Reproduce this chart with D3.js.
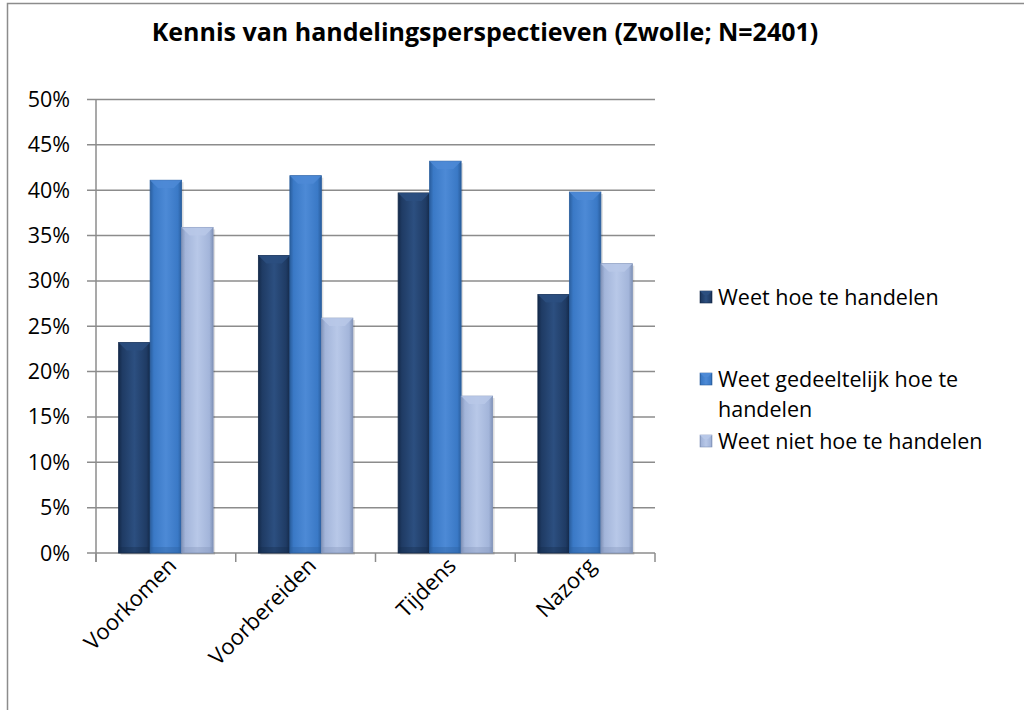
<!DOCTYPE html>
<html>
<head>
<meta charset="utf-8">
<script src="https://cdn.jsdelivr.net/npm/d3@7"></script>
<style>
  body { margin: 0; background: #fff; }
  text { font-family: "Open Sans", Lato, sans-serif; fill: #000; }
</style>
</head>
<body>
<script>
// chart data
var categories = ["Voorkomen", "Voorbereiden", "Tijdens", "Nazorg"];
var seriesNames = ["Weet hoe te handelen", "Weet gedeeltelijk hoe te handelen", "Weet niet hoe te handelen"];
var weetHoe = [23.2, 32.8, 39.7, 28.5];
var weetGedeeltelijk = [41.1, 41.6, 43.2, 39.8];
var weetNiet = [35.9, 25.9, 17.3, 31.9];
var yTicks = [0, 5, 10, 15, 20, 25, 30, 35, 40, 45, 50];

var series = [weetHoe, weetGedeeltelijk, weetNiet];
var colors = [
  {base: "#1f3b64", light: "#2c4f80", dark: "#142a4a"},
  {base: "#3a79c6", light: "#4d8ad6", dark: "#2a5e9e"},
  {base: "#a3b5da", light: "#b8c8e8", dark: "#8193b8"}
];

var W = 1024, H = 710;
var margin = {top: 99.5, left: 96, right: 1024 - 655, bottom: 710 - 553};
var width = W - margin.left - margin.right,
    height = H - margin.top - margin.bottom;

var svg = d3.select("body").append("svg")
    .attr("width", W)
    .attr("height", H);

// gradients for the bevelled bars
var defs = svg.append("defs");
colors.forEach(function(c, i) {
  var g = defs.append("linearGradient").attr("id", "grad" + i)
      .attr("x1", 0).attr("x2", 1).attr("y1", 0).attr("y2", 0);
  g.append("stop").attr("offset", "0%").attr("stop-color", c.dark);
  g.append("stop").attr("offset", "12%").attr("stop-color", c.base);
  g.append("stop").attr("offset", "50%").attr("stop-color", c.light);
  g.append("stop").attr("offset", "88%").attr("stop-color", c.base);
  g.append("stop").attr("offset", "100%").attr("stop-color", c.dark);
});

// outer frame
svg.append("rect")
    .attr("x", 7.5).attr("y", 3.5)
    .attr("width", W + 10).attr("height", H + 10)
    .attr("fill", "none")
    .attr("stroke", "#8c8c8c")
    .attr("stroke-width", 1.5);

// title
svg.append("text")
    .attr("x", 485).attr("y", 41)
    .attr("text-anchor", "middle")
    .style("font-size", "25px")
    .style("font-weight", "bold")
    .text("Kennis van handelingsperspectieven (Zwolle; N=2401)");

var g = svg.append("g")
    .attr("transform", "translate(" + margin.left + "," + margin.top + ")");

var x = d3.scaleBand().domain(categories).range([0, width]).paddingInner(0).paddingOuter(0);
var y = d3.scaleLinear().domain([0, 50]).range([height, 0]);
var barW = 31.5;
var xs = d3.scaleBand().domain(d3.range(series.length))
    .range([x.bandwidth() / 2 - barW * 1.5, x.bandwidth() / 2 + barW * 1.5]);

// gridlines
g.append("g").selectAll("line")
    .data(yTicks)
  .enter().append("line")
    .attr("x1", -9).attr("x2", width)
    .attr("y1", function(d) { return y(d); })
    .attr("y2", function(d) { return y(d); })
    .attr("stroke", "#8c8c8c")
    .attr("stroke-width", 1.5);

// y axis line and labels
g.append("line")
    .attr("x1", 0).attr("x2", 0).attr("y1", 0).attr("y2", height + 9)
    .attr("stroke", "#8c8c8c").attr("stroke-width", 1.5);

g.append("g").selectAll("text")
    .data(yTicks)
  .enter().append("text")
    .attr("x", -26)
    .attr("y", function(d) { return y(d); })
    .attr("dy", "0.35em")
    .attr("text-anchor", "end")
    .style("font-size", "21.5px")
    .text(function(d) { return d + "%"; });

// category ticks
g.append("g").selectAll("line")
    .data(d3.range(categories.length + 1))
  .enter().append("line")
    .attr("x1", function(i) { return i * x.bandwidth(); })
    .attr("x2", function(i) { return i * x.bandwidth(); })
    .attr("y1", height).attr("y2", height + 9)
    .attr("stroke", "#8c8c8c").attr("stroke-width", 1.5);

// bars
series.forEach(function(vals, si) {
  var grp = g.append("g");
  var bars = grp.selectAll("g")
      .data(vals)
    .enter().append("g")
      .attr("transform", function(d, i) {
        return "translate(" + (x(categories[i]) + xs(si)) + ",0)";
      });
  bars.append("rect")
      .attr("x", 2).attr("y", function(d) { return y(d) + 2; })
      .attr("width", barW).attr("height", function(d) { return height - y(d); })
      .attr("fill", "rgba(0,0,0,0.12)");
  bars.append("rect")
      .attr("y", function(d) { return y(d); })
      .attr("width", barW)
      .attr("height", function(d) { return height - y(d); })
      .attr("fill", "url(#grad" + si + ")")
      .attr("stroke", colors[si].dark)
      .attr("stroke-width", 0.8);
  // top bevel
  bars.append("path")
      .attr("d", function(d) {
        var t = y(d);
        return "M0," + t + "L" + barW + "," + t + "L" + (barW - 8) + "," + (t + 8) +
               "L8," + (t + 8) + "Z";
      })
      .attr("fill", colors[si].light)
      .attr("opacity", 0.85);
  // bottom bevel
  bars.append("rect")
      .attr("x", 0).attr("y", height - 6)
      .attr("width", barW).attr("height", 6)
      .attr("fill", colors[si].dark)
      .attr("opacity", 0.35);
});

// category labels
g.append("g").selectAll("text")
    .data(categories)
  .enter().append("text")
    .attr("text-anchor", "end")
    .attr("transform", function(d) {
      return "translate(" + (x(d) + x.bandwidth() / 2 + 12) + "," + (height + 14) + ") rotate(-45)";
    })
    .style("font-size", "22px")
    .text(function(d) { return d; });

// legend
var legendRows = [
  {lines: ["Weet hoe te handelen"], y: 297},
  {lines: ["Weet gedeeltelijk hoe te", "handelen"], y: 379},
  {lines: ["Weet niet hoe te handelen"], y: 441}
];
legendRows.forEach(function(r, i) {
  var lg = svg.append("g").attr("transform", "translate(700," + r.y + ")");
  lg.append("rect")
      .attr("x", 0).attr("y", -6).attr("width", 12).attr("height", 12)
      .attr("fill", "url(#grad" + i + ")")
      .attr("stroke", colors[i].dark).attr("stroke-width", 0.6);
  lg.append("path")
      .attr("d", "M0,-6L12,-6L8,-2L4,-2Z")
      .attr("fill", colors[i].light);
  r.lines.forEach(function(t, li) {
    lg.append("text")
        .attr("x", 18).attr("y", li * 30)
        .attr("dy", "0.35em")
        .style("font-size", "21.5px")
        .text(t);
  });
});
</script>
</body>
</html>
